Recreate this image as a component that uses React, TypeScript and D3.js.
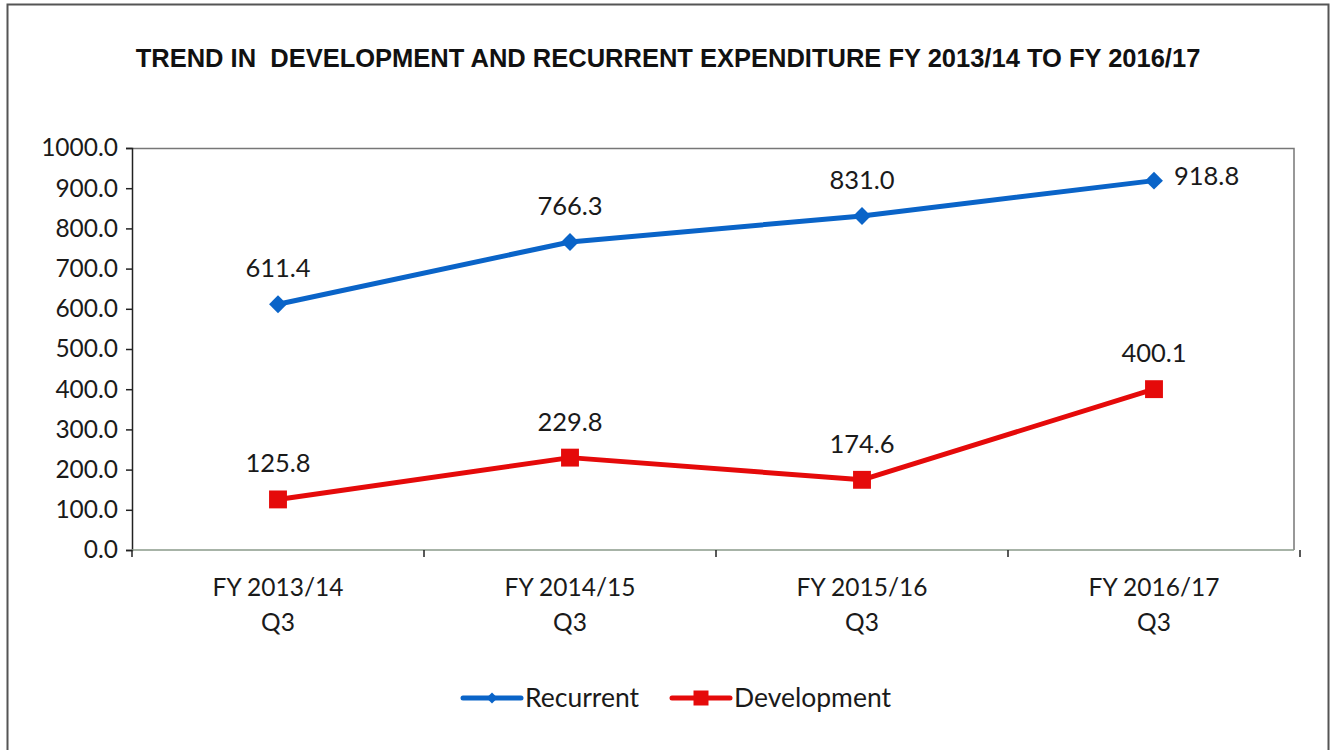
import { useEffect, useRef } from 'react';
import * as d3 from 'd3';

const categories = ['FY 2013/14|Q3', 'FY 2014/15|Q3', 'FY 2015/16|Q3', 'FY 2016/17|Q3'];
const recurrent = [611.4, 766.3, 831.0, 918.8];
const development = [125.8, 229.8, 174.6, 400.1];
const yTicks = [0, 100, 200, 300, 400, 500, 600, 700, 800, 900, 1000];

const BLUE = '#0a64c8';
const RED = '#e50a0a';

const App = () => {
  const svgRef = useRef<SVGSVGElement>(null);

  useEffect(() => {
    if (!svgRef.current) return;
    const svg = d3.select(svgRef.current);
    svg.selectAll('*').remove();

    const width = 1335;
    const height = 750;
    const margin = { top: 148, right: 35, bottom: 200, left: 132 };
    const innerWidth = width - margin.left - margin.right;
    const innerHeight = height - margin.top - margin.bottom;
    const font = 'Lato, Carlito, Calibri, sans-serif';

    svg.append('rect').attr('width', width).attr('height', height).attr('fill', '#fff');

    // outer frame
    svg.append('rect')
      .attr('x', 7.5).attr('y', 4.5)
      .attr('width', 1321).attr('height', 760)
      .attr('fill', 'none').attr('stroke', '#555').attr('stroke-width', 2);

    svg.append('text')
      .attr('x', 668).attr('y', 67)
      .attr('text-anchor', 'middle')
      .style('font-family', 'Liberation Sans, Arial, sans-serif')
      .style('font-weight', 'bold')
      .style('font-size', '25.5px')
      .attr('fill', '#111')
      .attr('xml:space', 'preserve')
      .text('TREND IN  DEVELOPMENT AND RECURRENT EXPENDITURE FY 2013/14 TO FY 2016/17');

    const chart = svg.append('g').attr('transform', `translate(${margin.left},${margin.top})`);

    const x = d3.scaleBand().domain(categories).range([0, innerWidth]).padding(0);
    const y = d3.scaleLinear().domain([0, 1000]).range([innerHeight, 0]);

    // plot frame (top + right)
    chart.append('path')
      .attr('d', `M0,0.5H${innerWidth - 6}V${innerHeight}`)
      .attr('fill', 'none').attr('stroke', '#777').attr('stroke-width', 1.5);

    // y axis
    const yAxis = chart.append('g')
      .call(d3.axisLeft(y).tickValues(yTicks).tickSize(6).tickPadding(8).tickFormat(d3.format('.1f')));
    yAxis.select('.domain').attr('stroke', '#222').attr('stroke-width', 1.5);
    yAxis.selectAll('.tick line').attr('stroke', '#222').attr('stroke-width', 1.5);
    yAxis.selectAll('text')
      .style('font-family', font).style('font-size', '24.5px').attr('fill', '#1a1a1a');

    // x axis
    const xAxisG = chart.append('g').attr('transform', `translate(0,${innerHeight})`);
    xAxisG.append('line').attr('x1', 0).attr('x2', innerWidth - 6)
      .attr('stroke', '#8a9a8a').attr('stroke-width', 1.5);
    const bounds = [...categories.map(c => x(c) as number), innerWidth];
    xAxisG.selectAll('.xtick').data(bounds).enter().append('line')
      .attr('x1', d => d).attr('x2', d => d).attr('y1', 0).attr('y2', 7)
      .attr('stroke', '#222').attr('stroke-width', 1.5);
    const catLabels = xAxisG.selectAll('.cat').data(categories).enter().append('text')
      .attr('x', d => (x(d) as number) + x.bandwidth() / 2)
      .attr('text-anchor', 'middle')
      .style('font-family', font).style('font-size', '24.5px').attr('fill', '#1a1a1a');
    catLabels.append('tspan').attr('x', d => (x(d) as number) + x.bandwidth() / 2).attr('y', 46)
      .text(d => d.split('|')[0]);
    catLabels.append('tspan').attr('x', d => (x(d) as number) + x.bandwidth() / 2).attr('y', 81)
      .text(d => d.split('|')[1]);

    const cx = (i: number) => (x(categories[i]) as number) + x.bandwidth() / 2;
    const line = d3.line<number>().x((_, i) => cx(i)).y(d => y(d));

    const series = [
      { values: recurrent, color: BLUE, symbol: d3.symbolSquare, size: 160, rot: 45 },
      { values: development, color: RED, symbol: d3.symbolSquare, size: 320, rot: 0 },
    ];

    series.forEach(s => {
      chart.append('path').datum(s.values)
        .attr('d', line).attr('fill', 'none')
        .attr('stroke', s.color).attr('stroke-width', 5).attr('stroke-linejoin', 'round');
      chart.selectAll(null).data(s.values).enter().append('path')
        .attr('transform', (d, i) => `translate(${cx(i)},${y(d)}) rotate(${s.rot})`)
        .attr('d', d3.symbol().type(s.symbol).size(s.size)())
        .attr('fill', s.color);
      chart.selectAll(null).data(s.values).enter().append('text')
        .attr('x', (d, i) => (s.color === BLUE && i === 3 ? cx(i) + 20 : cx(i)))
        .attr('y', (d, i) => (s.color === BLUE && i === 3 ? y(d) + 4 : y(d) - 27))
        .attr('text-anchor', (d, i) => (s.color === BLUE && i === 3 ? 'start' : 'middle'))
        .style('font-family', font).style('font-size', '25.5px').attr('fill', '#1a1a1a')
        .text(d => d.toFixed(1));
    });

    // legend
    const legend = svg.append('g').attr('transform', 'translate(0,698)');
    const items = [
      { label: 'Recurrent', color: BLUE, size: 60, rot: 45, x: 463 },
      { label: 'Development', color: RED, size: 225, rot: 0, x: 672 },
    ];
    items.forEach(it => {
      legend.append('line').attr('x1', it.x).attr('x2', it.x + 58)
        .attr('stroke', it.color).attr('stroke-width', 5).attr('stroke-linecap', 'round');
      legend.append('path').attr('transform', `translate(${it.x + 29},0) rotate(${it.rot})`)
        .attr('d', d3.symbol().type(d3.symbolSquare).size(it.size)()).attr('fill', it.color);
      legend.append('text').attr('x', it.x + 62).attr('y', 9)
        .style('font-family', font).style('font-size', '26.5px').attr('fill', '#1a1a1a')
        .text(it.label);
    });
  }, []);

  return (
    <svg ref={svgRef} width="1335" height="750" viewBox="0 0 1335 750"
      style={{ position: 'absolute', left: 0, top: 0 }} />
  );
};

export default App;
